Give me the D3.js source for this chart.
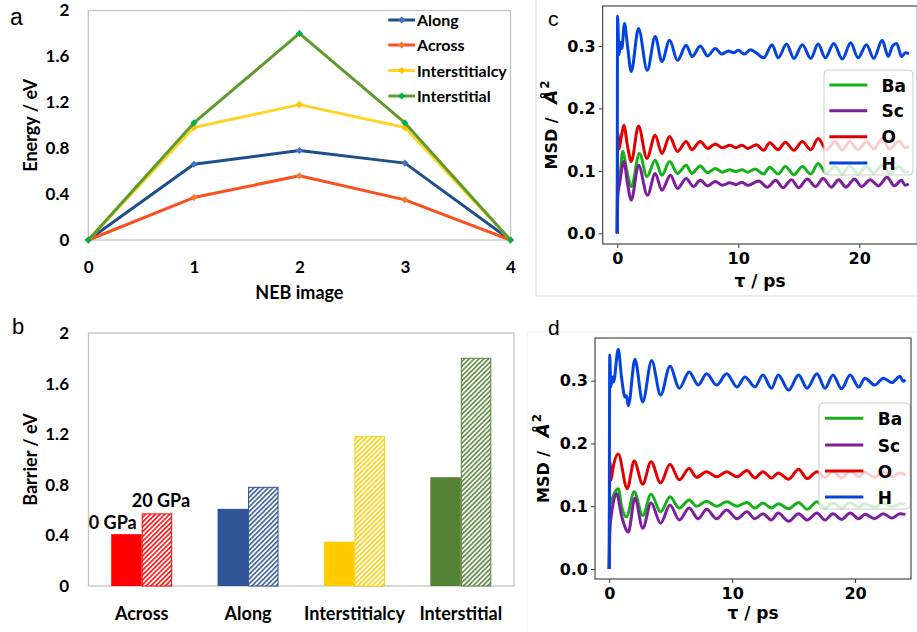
<!DOCTYPE html>
<html><head><meta charset="utf-8">
<script src="https://cdn.jsdelivr.net/npm/d3@7/dist/d3.min.js"></script>
<style>html,body{margin:0;padding:0;background:#fff;} svg{display:block;}</style>
</head><body>
<svg id="fig" width="917" height="632"></svg>
<script>
// ---------------- data ----------------
const nebImages = [0, 1, 2, 3, 4];
const nebSeriesNames = ["Along", "Across", "Interstitialcy", "Interstitial"];
const energyAlong = [0, 0.66, 0.78, 0.67, 0];
const energyAcross = [0, 0.37, 0.56, 0.35, 0];
const energyInterstitialcy = [0, 0.98, 1.18, 0.98, 0];
const energyInterstitial = [0, 1.02, 1.80, 1.02, 0];
const energyTicks = [0, 0.4, 0.8, 1.2, 1.6, 2];

const barrierCategories = ["Across", "Along", "Interstitialcy", "Interstitial"];
const barrier0GPa = [0.41, 0.61, 0.35, 0.86];
const barrier20GPa = [0.57, 0.78, 1.18, 1.80];
const barrierTicks = [0, 0.4, 0.8, 1.2, 1.6, 2];
const pressureLabels = ["0 GPa", "20 GPa"];

const msdNames = ["Ba", "Sc", "O", "H"];
const msdTicksY = [0.0, 0.1, 0.2, 0.3];
const msdTicksX = [0, 10, 20];

// panel c : [time (ps), MSD (Å²)]
const msdC_H = [[0,0],[0.03,0.348],[0.15,0.286],[0.28,0.306],[0.38,0.296],[0.6,0.336],[0.85,0.30],[1.16,0.259],[1.76,0.328],[2.48,0.261],[3.14,0.315],[3.69,0.275],[4.33,0.309],[4.98,0.277],[5.7,0.301],[6.2,0.283],[6.86,0.300],[7.47,0.284],[8.1,0.296],[8.65,0.287],[9.2,0.292],[9.6,0.289],[10.0,0.293],[10.5,0.287],[11.0,0.294],[11.5,0.289],[12.1,0.281],[12.8,0.302],[13.3,0.281],[14.0,0.303],[14.6,0.280],[15.3,0.302],[16.0,0.280],[16.6,0.303],[17.2,0.281],[17.9,0.304],[18.6,0.279],[19.3,0.305],[19.9,0.281],[20.6,0.302],[21.2,0.280],[21.9,0.309],[22.4,0.283],[22.75,0.300],[23.1,0.304],[23.5,0.283],[23.8,0.289],[24.1,0.288]];
const msdC_O = [[0,0],[0.05,0.16],[0.15,0.135],[0.3,0.15],[0.55,0.173],[0.85,0.14],[1.16,0.115],[1.76,0.172],[2.45,0.12],[3.14,0.157],[3.69,0.128],[4.33,0.155],[4.98,0.131],[5.7,0.147],[6.17,0.134],[6.86,0.147],[7.47,0.136],[8.1,0.143],[8.7,0.137],[9.3,0.141],[9.8,0.137],[10.3,0.141],[10.8,0.136],[11.5,0.142],[12.1,0.133],[12.6,0.145],[13.3,0.134],[13.9,0.146],[14.6,0.133],[15.3,0.147],[16.0,0.134],[16.6,0.152],[17.3,0.134],[18.0,0.147],[18.6,0.133],[19.2,0.147],[19.9,0.134],[20.6,0.147],[21.2,0.135],[21.9,0.152],[22.5,0.135],[23.3,0.148],[23.8,0.137],[24.1,0.139]];
const msdC_Ba = [[0,0],[0.05,0.10],[0.2,0.091],[0.45,0.131],[0.8,0.10],[1.16,0.075],[1.84,0.128],[2.45,0.091],[3.14,0.117],[3.69,0.093],[4.33,0.115],[4.98,0.096],[5.7,0.109],[6.17,0.096],[6.86,0.108],[7.47,0.097],[8.1,0.104],[8.7,0.098],[9.3,0.102],[9.8,0.099],[10.3,0.102],[10.8,0.098],[11.4,0.103],[12.1,0.095],[12.6,0.106],[13.3,0.095],[13.9,0.107],[14.6,0.094],[15.3,0.107],[16.0,0.095],[16.6,0.112],[17.3,0.096],[18.0,0.107],[18.6,0.095],[19.2,0.108],[19.9,0.095],[20.6,0.107],[21.2,0.096],[21.9,0.110],[22.5,0.096],[23.3,0.107],[23.8,0.098],[24.1,0.099]];
const msdC_Sc = [[0,0],[0.05,0.06],[0.2,0.08],[0.55,0.115],[0.85,0.08],[1.16,0.053],[1.76,0.109],[2.5,0.061],[3.14,0.096],[3.69,0.069],[4.4,0.093],[4.98,0.072],[5.7,0.088],[6.3,0.075],[6.86,0.085],[7.47,0.076],[8.1,0.083],[8.7,0.077],[9.3,0.081],[9.8,0.078],[10.3,0.082],[10.8,0.077],[11.7,0.084],[12.4,0.074],[13.1,0.085],[13.7,0.073],[14.4,0.086],[15.0,0.073],[15.7,0.087],[16.4,0.075],[17.0,0.088],[17.7,0.074],[18.3,0.086],[18.9,0.074],[19.6,0.087],[20.2,0.075],[20.9,0.086],[21.6,0.076],[22.3,0.090],[22.9,0.076],[23.5,0.085],[23.8,0.077],[24.1,0.079]];

// panel d : [time (ps), MSD (Å²)]
const msdD_H = [[0,0],[0.04,0.341],[0.12,0.29],[0.25,0.306],[0.35,0.298],[0.73,0.35],[1.0,0.305],[1.28,0.274],[1.4,0.276],[1.55,0.26],[2.09,0.334],[2.72,0.266],[3.45,0.332],[4.18,0.277],[4.94,0.323],[5.7,0.288],[6.5,0.314],[7.24,0.293],[7.92,0.311],[8.74,0.293],[9.55,0.311],[10.4,0.29],[11.04,0.306],[11.85,0.29],[12.5,0.309],[13.2,0.288],[13.75,0.309],[14.6,0.285],[15.4,0.309],[16.1,0.288],[16.9,0.311],[17.55,0.288],[18.2,0.309],[18.9,0.287],[19.6,0.309],[20.3,0.29],[20.8,0.304],[21.6,0.293],[22.3,0.304],[23.0,0.297],[23.65,0.307],[23.9,0.299],[24.1,0.301]];
const msdD_O = [[0,0],[0.05,0.171],[0.15,0.142],[0.3,0.16],[0.73,0.183],[1.46,0.128],[2.03,0.172],[2.72,0.135],[3.4,0.171],[4.18,0.137],[4.94,0.167],[5.7,0.142],[6.5,0.160],[7.1,0.146],[7.92,0.155],[8.74,0.147],[9.55,0.155],[10.4,0.147],[11.2,0.157],[11.85,0.145],[12.5,0.155],[13.2,0.145],[13.75,0.153],[14.6,0.143],[15.4,0.159],[16.1,0.144],[16.9,0.155],[17.55,0.146],[18.2,0.156],[18.9,0.145],[19.6,0.156],[20.3,0.147],[20.8,0.154],[21.6,0.146],[22.3,0.155],[23.0,0.147],[23.65,0.153],[24.1,0.150]];
const msdD_Ba = [[0,0],[0.05,0.102],[0.2,0.11],[0.73,0.128],[1.0,0.10],[1.4,0.083],[2.03,0.123],[2.72,0.085],[3.4,0.119],[4.18,0.091],[4.94,0.115],[5.7,0.097],[6.5,0.110],[7.1,0.100],[7.92,0.108],[8.74,0.100],[9.55,0.107],[10.4,0.100],[11.2,0.106],[11.85,0.097],[12.5,0.105],[13.2,0.097],[13.75,0.104],[14.6,0.096],[15.4,0.106],[16.1,0.095],[16.9,0.107],[17.55,0.097],[18.2,0.105],[18.9,0.097],[19.6,0.106],[20.3,0.098],[20.8,0.104],[21.6,0.098],[22.3,0.105],[23.0,0.099],[23.65,0.104],[24.1,0.103]];
const msdD_Sc = [[0,0],[0.05,0.062],[0.2,0.09],[0.6,0.12],[1.0,0.085],[1.55,0.059],[2.09,0.113],[2.72,0.065],[3.4,0.105],[4.18,0.073],[4.94,0.102],[5.7,0.078],[6.5,0.097],[7.24,0.08],[7.92,0.095],[8.74,0.08],[9.55,0.094],[10.4,0.08],[11.2,0.091],[11.85,0.08],[12.5,0.088],[13.2,0.078],[13.75,0.089],[14.6,0.076],[15.4,0.088],[16.1,0.078],[16.9,0.089],[17.55,0.078],[18.2,0.088],[18.9,0.079],[19.6,0.089],[20.3,0.08],[20.8,0.087],[21.6,0.080],[22.3,0.088],[23.0,0.081],[23.65,0.088],[24.1,0.087]];

// ---------------- drawing ----------------
const svg = d3.select("#fig");
const defs = svg.append("defs");
const fontAB = "Lato, 'Open Sans', 'DejaVu Sans', sans-serif";
const fontCD = "'DejaVu Sans', sans-serif";
const fontLetter = "'Liberation Sans', Arial, sans-serif";

function styleAxis(g, family, size) {
  g.select(".domain").remove();
  g.selectAll("text").attr("font-family", family).attr("font-weight", 700)
    .attr("font-size", size).attr("fill", "#000");
}

// panel borders
svg.append("path").attr("d", "M536,0V296H917").attr("fill", "none").attr("stroke", "#d6d6d6").attr("stroke-width", 1);
svg.append("path").attr("d", "M527,632V332H917").attr("fill", "none").attr("stroke", "#eeeeee").attr("stroke-width", 1);

// ===== Panel a =====
const aX = d3.scaleLinear().domain([0, 4]).range([88.3, 510.5]);
const aY = d3.scaleLinear().domain([0, 2]).range([240, 10.5]);
const gA = svg.append("g");
gA.append("rect").attr("x", aX(0)).attr("y", aY(2)).attr("width", aX(4) - aX(0))
  .attr("height", aY(0) - aY(2)).attr("fill", "none").attr("stroke", "#c4c4c4").attr("stroke-width", 1.3);
styleAxis(gA.append("g").attr("transform", `translate(${aX(0)},0)`)
  .call(d3.axisLeft(aY).tickValues(energyTicks).tickFormat(d => String(d)).tickSize(0).tickPadding(19)), fontAB, 17);
styleAxis(gA.append("g").attr("transform", `translate(0,${aY(0)})`)
  .call(d3.axisBottom(aX).tickValues(nebImages).tickFormat(d => String(d)).tickSize(0).tickPadding(21)), fontAB, 17);
gA.append("text").attr("transform", `translate(37,${(aY(0) + aY(2)) / 2}) rotate(-90)`)
  .attr("text-anchor", "middle").attr("font-family", fontAB).attr("font-weight", 700).attr("font-size", 18).text("Energy / eV");
gA.append("text").attr("x", (aX(0) + aX(4)) / 2).attr("y", 299).attr("text-anchor", "middle")
  .attr("font-family", fontAB).attr("font-weight", 700).attr("font-size", 18).text("NEB image");
gA.append("text").attr("x", 10).attr("y", 25).attr("font-family", fontLetter).attr("font-size", 23).text("a");

const nebSeries = [
  { name: nebSeriesNames[0], values: energyAlong, line: "#1f4e8c", marker: "#4472c4" },
  { name: nebSeriesNames[1], values: energyAcross, line: "#fc4f1f", marker: "#ed7d31" },
  { name: nebSeriesNames[2], values: energyInterstitialcy, line: "#ffd42a", marker: "#ffc000" },
  { name: nebSeriesNames[3], values: energyInterstitial, line: "#5e9b2c", marker: "#00b050" }
];
const aLine = d3.line().x((d, i) => aX(nebImages[i])).y(d => aY(d));
const diamond = d3.symbol(d3.symbolSquare, 26);
nebSeries.forEach(s => {
  gA.append("path").attr("d", aLine(s.values)).attr("fill", "none").attr("stroke", s.line)
    .attr("stroke-width", 3).attr("stroke-linejoin", "round");
  gA.selectAll(null).data(s.values).enter().append("path").attr("d", diamond)
    .attr("transform", (d, i) => `translate(${aX(nebImages[i])},${aY(d)}) rotate(45)`).attr("fill", s.marker);
});
const aLegendY = [20, 45, 70.5, 96];
nebSeries.forEach((s, i) => {
  const y = aLegendY[i];
  gA.append("line").attr("x1", 388.3).attr("x2", 415).attr("y1", y).attr("y2", y).attr("stroke", s.line).attr("stroke-width", 3);
  gA.append("path").attr("d", diamond).attr("transform", `translate(401.7,${y}) rotate(45)`).attr("fill", s.marker);
  gA.append("text").attr("x", 417).attr("y", y + 6).attr("font-family", fontAB).attr("font-weight", 700)
    .attr("font-size", 16).text(s.name);
});

// ===== Panel b =====
const barColors = ["#ff0000", "#2f5597", "#ffcc00", "#548235"];
barColors.forEach((c, i) => {
  const p = defs.append("pattern").attr("id", "hatch" + i).attr("patternUnits", "userSpaceOnUse")
    .attr("width", 3.4).attr("height", 3.4).attr("patternTransform", "rotate(45)");
  p.append("rect").attr("width", 3.4).attr("height", 3.4).attr("fill", "#fff");
  p.append("line").attr("x1", 0.8).attr("x2", 0.8).attr("y1", 0).attr("y2", 3.4).attr("stroke", c).attr("stroke-width", 1.5);
});
const bX = d3.scaleBand().domain(barrierCategories).range([88.5, 514]).paddingInner(0.427).paddingOuter(0.2135);
const bSub = d3.scaleBand().domain(pressureLabels).range([0, bX.bandwidth()]);
const bY = d3.scaleLinear().domain([0, 2]).range([586, 333]);
const gB = svg.append("g");
gB.append("rect").attr("x", 88.5).attr("y", bY(2)).attr("width", 514 - 88.5).attr("height", bY(0) - bY(2))
  .attr("fill", "none").attr("stroke", "#c4c4c4").attr("stroke-width", 1.3);
styleAxis(gB.append("g").attr("transform", `translate(88.5,0)`)
  .call(d3.axisLeft(bY).tickValues(barrierTicks).tickFormat(d => String(d)).tickSize(0).tickPadding(19.5)), fontAB, 17);
styleAxis(gB.append("g").attr("transform", `translate(0,${bY(0)})`)
  .call(d3.axisBottom(bX).tickSize(0).tickPadding(21)), fontAB, 18);
barrierCategories.forEach((c, i) => {
  gB.append("rect").attr("x", bX(c) + bSub(pressureLabels[0])).attr("y", bY(barrier0GPa[i]))
    .attr("width", bSub.bandwidth()).attr("height", bY(0) - bY(barrier0GPa[i])).attr("fill", barColors[i]);
  gB.append("rect").attr("x", bX(c) + bSub(pressureLabels[1]) + 0.5).attr("y", bY(barrier20GPa[i]))
    .attr("width", bSub.bandwidth() - 1).attr("height", bY(0) - bY(barrier20GPa[i]))
    .attr("fill", `url(#hatch${i})`).attr("stroke", barColors[i]).attr("stroke-width", 1);
});
gB.append("text").attr("x", bX(barrierCategories[0]) + bSub(pressureLabels[0]) + bSub.bandwidth() - 5)
  .attr("y", bY(barrier0GPa[0]) - 5).attr("text-anchor", "end")
  .attr("font-family", fontAB).attr("font-weight", 700).attr("font-size", 18).text(pressureLabels[0]);
gB.append("text").attr("x", bX(barrierCategories[0]) + bSub(pressureLabels[1]) + bSub.bandwidth() / 2 + 4)
  .attr("y", bY(barrier20GPa[0]) - 7).attr("text-anchor", "middle")
  .attr("font-family", fontAB).attr("font-weight", 700).attr("font-size", 18).text(pressureLabels[1]);
gB.append("text").attr("transform", `translate(37,${(bY(0) + bY(2)) / 2}) rotate(-90)`)
  .attr("text-anchor", "middle").attr("font-family", fontAB).attr("font-weight", 700).attr("font-size", 18).text("Barrier / eV");
gB.append("text").attr("x", 12).attr("y", 334).attr("font-family", fontLetter).attr("font-size", 22).text("b");

// ===== Panels c & d =====
const msdColors = { Ba: "#15b01a", Sc: "#7e1e9c", O: "#e50000", H: "#0343df" };
function drawMsd(cfg) {
  const g = svg.append("g");
  const x = d3.scaleLinear().domain(cfg.xDomain).range([cfg.left, cfg.right]);
  const y = d3.scaleLinear().domain(cfg.yDomain).range([cfg.bottom, cfg.top]);
  const clipId = "clip" + cfg.id;
  defs.append("clipPath").attr("id", clipId).append("rect").attr("x", cfg.left).attr("y", cfg.top)
    .attr("width", cfg.right - cfg.left).attr("height", cfg.bottom - cfg.top);
  const line = d3.line().x(d => x(d[0])).y(d => y(d[1])).curve(d3.curveMonotoneX);
  const plot = g.append("g").attr("clip-path", `url(#${clipId})`);
  msdNames.forEach(n => {
    plot.append("path").attr("d", line(cfg.series[n])).attr("fill", "none").attr("stroke", msdColors[n])
      .attr("stroke-width", 3).attr("stroke-linejoin", "round");
  });
  // legend
  const L = cfg.legend;
  g.append("rect").attr("x", L.x).attr("y", L.y).attr("width", L.w).attr("height", L.h).attr("rx", 4)
    .attr("fill", "#fff").attr("fill-opacity", 0.8).attr("stroke", "#cccccc").attr("stroke-width", 1);
  msdNames.forEach((n, i) => {
    const yy = L.rows[i];
    g.append("line").attr("x1", L.lx1).attr("x2", L.lx2).attr("y1", yy).attr("y2", yy)
      .attr("stroke", msdColors[n]).attr("stroke-width", 3);
    g.append("text").attr("x", L.tx).attr("y", yy + 6.5).attr("font-family", fontCD).attr("font-weight", 700)
      .attr("font-size", 17).text(n);
  });
  // frame
  g.append("rect").attr("x", cfg.left).attr("y", cfg.top).attr("width", cfg.right - cfg.left)
    .attr("height", cfg.bottom - cfg.top).attr("fill", "none").attr("stroke", "#3a3a3a").attr("stroke-width", 1.1);
  const ya = g.append("g").attr("transform", `translate(${cfg.left},0)`)
    .call(d3.axisLeft(y).tickValues(msdTicksY).tickFormat(d3.format(".1f")).tickSize(4).tickPadding(3));
  const xa = g.append("g").attr("transform", `translate(0,${cfg.bottom})`)
    .call(d3.axisBottom(x).tickValues(msdTicksX).tickFormat(d3.format("d")).tickSize(4).tickPadding(5));
  [ya, xa].forEach(a => { styleAxis(a, fontCD, 16); a.selectAll("line").attr("stroke", "#3a3a3a"); });
  g.append("text").attr("x", (cfg.left + cfg.right) / 2).attr("y", cfg.xlabelY).attr("text-anchor", "middle")
    .attr("font-family", fontCD).attr("font-weight", 700).attr("font-size", 17).text("τ / ps");
  const yl = g.append("text").attr("transform", `translate(${cfg.ylabelX},${(cfg.top + cfg.bottom) / 2}) rotate(-90)`)
    .attr("text-anchor", "middle").attr("font-family", fontCD).attr("font-weight", 700).attr("font-size", 16);
  yl.append("tspan").text("MSD / ");
  yl.append("tspan").attr("dx", 8).attr("font-style", "italic").attr("font-size", 18).text("Å");
  yl.append("tspan").attr("dx", 1).attr("dy", -8).attr("font-size", 12).text("2");
  g.append("text").attr("x", cfg.letter[0]).attr("y", cfg.letter[1]).attr("font-family", fontLetter)
    .attr("font-size", 21).text(cfg.letter[2]);
}

drawMsd({
  id: "c", left: 602.7, right: 917.3, top: 6, bottom: 244,
  xDomain: [-1.2, 24.8], yDomain: [-0.017, 0.364],
  series: { Ba: msdC_Ba, Sc: msdC_Sc, O: msdC_O, H: msdC_H },
  legend: { x: 824, y: 70, w: 89, h: 105, rows: [85, 110.7, 136.7, 163], lx1: 829.3, lx2: 867.3, tx: 881.5 },
  xlabelY: 287, ylabelX: 557, letter: [548, 26, "c"]
});
drawMsd({
  id: "d", left: 595, right: 911, top: 338, bottom: 579,
  xDomain: [-1.16, 24.55], yDomain: [-0.016, 0.368],
  series: { Ba: msdD_Ba, Sc: msdD_Sc, O: msdD_O, H: msdD_H },
  legend: { x: 819, y: 403, w: 91, h: 106, rows: [418.3, 445, 471, 497], lx1: 825, lx2: 863.3, tx: 877.7 },
  xlabelY: 619, ylabelX: 549, letter: [548, 335, "d"]
});
</script>
</body></html>
